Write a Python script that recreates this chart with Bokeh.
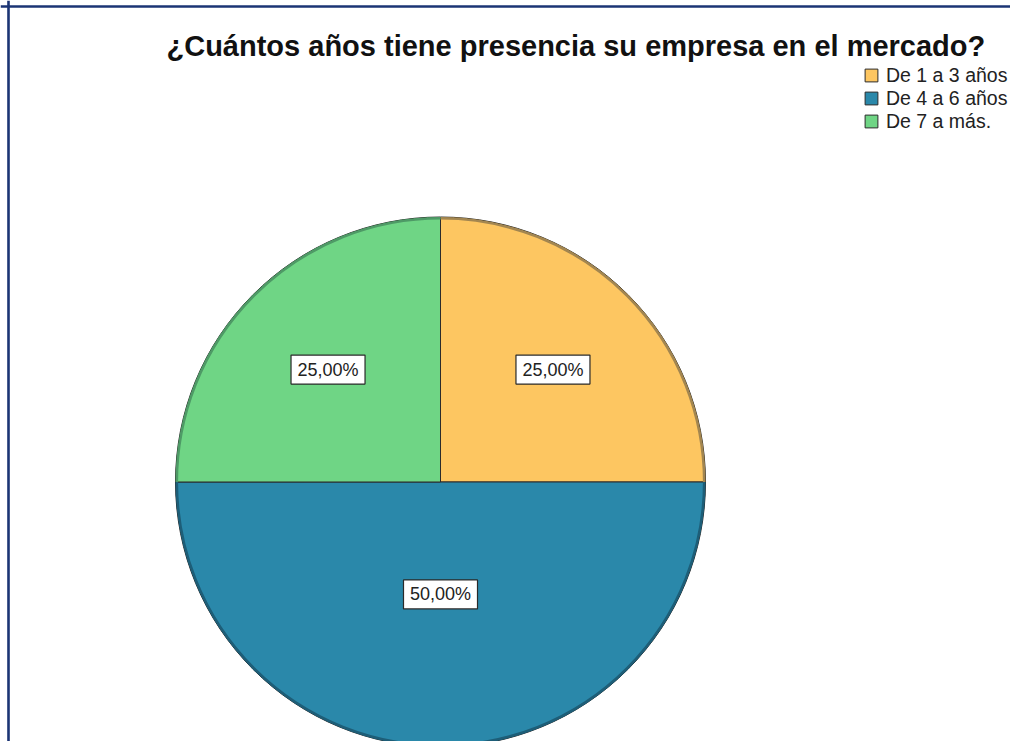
import math
from bokeh.plotting import figure
from bokeh.models import ColumnDataSource, Range1d, Legend, LegendItem, Span
from bokeh.core.properties import value
from bokeh.embed import file_html
from bokeh.resources import INLINE

# ---- data ----
title_text = "¿Cuántos años tiene presencia su empresa en el mercado?"
categories = ["De 1 a 3 años", "De 4 a 6 años", "De 7 a más."]
percentages = [25.0, 50.0, 25.0]
colors = ["#FDC661", "#2A88AA", "#6FD585"]
edge_colors = ["#A38650", "#1D5E78", "#4E9A66"]

# ---- layout (pixels == data units) ----
W, H = 1010, 741
CX, CY, R = 440, H - 481.5, 265

total = sum(percentages)
starts, ends, lx, ly, texts = [], [], [], [], []
cum = 0.0
for v in percentages:
    frac = v / total
    s = math.pi / 2 - 2 * math.pi * cum
    cum += frac
    e = math.pi / 2 - 2 * math.pi * cum
    starts.append(s)
    ends.append(e)
    mid = (s + e) / 2
    alpha = math.pi * frac
    d = 2 * R * math.sin(alpha) / (3 * alpha)
    lx.append(CX + d * math.cos(mid))
    ly.append(CY + d * math.sin(mid))
    texts.append(f"{v:.2f}".replace(".", ",") + "%")

src = ColumnDataSource(dict(cat=categories, val=percentages, color=colors, edge=edge_colors,
                            start=starts, end=ends))
lab = ColumnDataSource(dict(x=lx, y=ly, text=texts))

p = figure(width=W, height=H, output_backend="svg", toolbar_location=None,
           x_range=Range1d(0, W), y_range=Range1d(0, H),
           x_axis_location=None, y_axis_location=None, min_border=0,
           background_fill_color="white", border_fill_color="white")
p.outline_line_color = None
p.grid.visible = False

wr = p.wedge(x=CX, y=CY, radius=R, start_angle="start", end_angle="end", direction="clock",
             fill_color="color", line_color="#2b2b2b", line_width=1, source=src)
p.arc(x=CX, y=CY, radius=R - 1.3, start_angle="start", end_angle="end", direction="clock",
      line_color="edge", line_width=2.6, source=src)

# label boxes
p.rect(x="x", y="y", width=74, height=29, width_units="screen", height_units="screen",
       fill_color="white", line_color="#2a2a2a", line_width=1.2, source=lab)
p.text(x="x", y="y", text="text", text_align="center", text_baseline="middle",
       text_font=value("Liberation Sans"), text_font_size="18px", text_color="#222222",
       source=lab)

# title
p.text(x=[166], y=[H - 45], text=[title_text], text_align="left", text_baseline="alphabetic",
       text_font=value("Liberation Sans"), text_font_size="29px", text_font_style="bold",
       text_color="#111111")

# legend
items = [LegendItem(label=c, renderers=[wr], index=i) for i, c in enumerate(categories)]
legend = Legend(items=items, location=(863, H - 63.5 - 69), padding=0, margin=0, spacing=0,
                glyph_width=16, glyph_height=16, label_height=23, label_standoff=7,
                label_text_font="Liberation Sans", label_text_font_size="19.5px",
                label_text_color="#222222", background_fill_alpha=0,
                border_line_color=None)
p.add_layout(legend)

# frame lines (top and left)
p.add_layout(Span(location=8, dimension="height", line_color="#1B3474", line_width=2.6))
p.add_layout(Span(location=H - 6, dimension="width", line_color="#1B3474", line_width=2.6))

open("out.html", "w").write(file_html(p, INLINE))
